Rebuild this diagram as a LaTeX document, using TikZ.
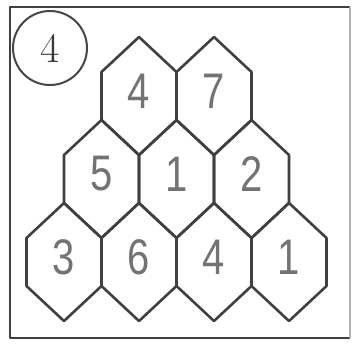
\documentclass[tikz,border=0pt]{standalone}
\usepackage{fontspec}
\newfontfamily\digitfont{Liberation Sans}
\usetikzlibrary{calc}
\begin{document}
\begin{tikzpicture}[x=1pt,y=-1pt,
  ink/.style={draw=black!75, line width=2.6pt, line join=round},
  hexcell/.style={ink},
  digit/.style={text=black!55, font=\digitfont\fontsize{50}{50}\selectfont, xscale=0.8, inner sep=0pt},
  badge/.style={circle, draw=black!72, line width=2pt, minimum size=74pt, inner sep=0pt, font=\fontsize{42}{42}\selectfont, text=black!78}]
\useasboundingbox (0,0) rectangle (352,343);
\fill[white] (0,0) rectangle (352,343);
% frame
\draw[ink] (350,7) -- (10,7) -- (10,338) -- (350,338);
\draw[draw=black!30, line width=1.5pt] (350,7) -- (350,338);
% badge
\node[badge] (badge) at (50,48) {4};
% hexagons
\foreach \n/\cx/\cy/\d in {a/139/96/4, b/214/96/7,
                            c/101.5/179/5, d/176.5/179/1, e/251.5/179/2,
                            f/64/262/3, g/139/262/6, h/214/262/4, i/289/262/1}{
  \coordinate (c\n) at (\cx,\cy);
  \draw[hexcell] ($(c\n)+(0,-59)$) -- ++(37.5,35) -- ++(0,48) -- ++(-37.5,35) -- ++(-37.5,-35) -- ++(0,-48) -- cycle;
  \node[digit] (d\n) at ($(c\n)+(0,-5)$) {\d};
}
\end{tikzpicture}
\end{document}
